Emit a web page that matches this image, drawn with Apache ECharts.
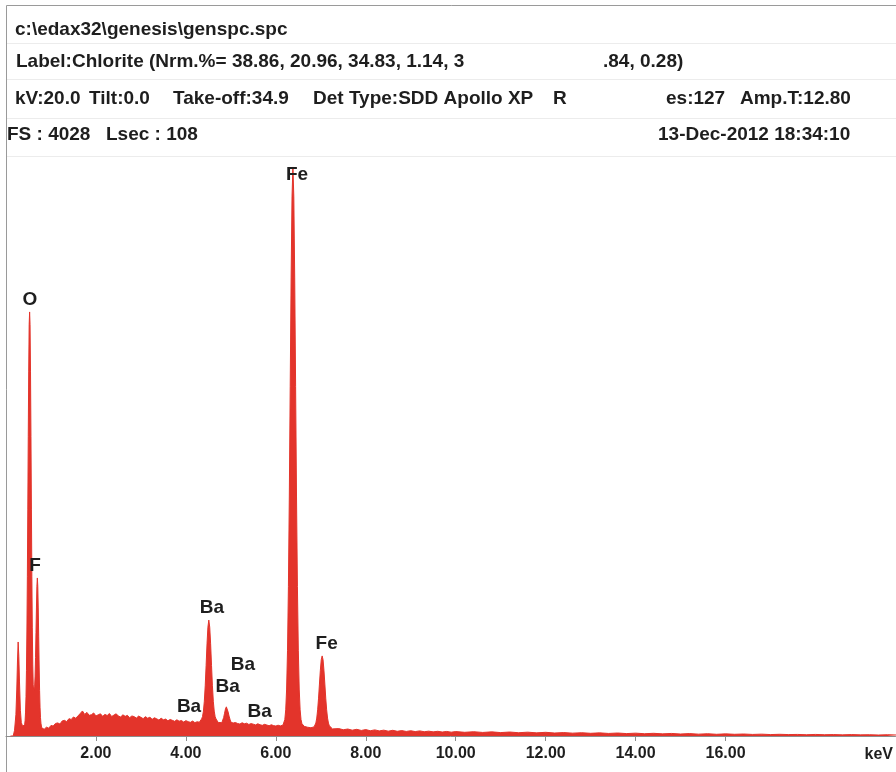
<!DOCTYPE html>
<html><head><meta charset="utf-8">
<script src="https://cdn.jsdelivr.net/npm/echarts@6/dist/echarts.min.js"></script>
<style>html,body{margin:0;padding:0;background:#fff}#c{width:896px;height:772px}</style>
</head><body><div id="c"></div>
<script>
// ---------------- DATA ----------------
// EDS spectrum, [energy keV, counts] (full scale FS = 4028)
const lowEnergyPeaks = [ // C, O and F / Fe-L region
[0.10,0],[0.16,0],[0.19,40],[0.22,150],[0.24,330],[0.255,520],[0.27,661],[0.285,560],[0.30,380],[0.32,180],
[0.34,95],[0.37,68],[0.40,62],[0.415,80],[0.425,110],[0.435,168],[0.445,277],[0.455,459],[0.465,738],[0.475,1123],
[0.485,1595],[0.495,2104],[0.505,2565],[0.515,2892],[0.525,2981],[0.535,2892],[0.545,2565],[0.555,2104],[0.565,1595],[0.575,1123],
[0.585,760],[0.595,500],[0.605,360],[0.615,320],[0.625,335],[0.637,350],[0.647,421],[0.657,552],[0.667,727],[0.677,900],
[0.687,1053],[0.697,1111],[0.707,1053],[0.717,900],[0.727,697],[0.737,492],[0.747,321],[0.757,202],[0.767,129],[0.777,90],
[0.787,70],[0.80,55]
];
const continuumLow = [
[0.85,48],[0.90,62],[0.95,55],[1.00,74],[1.05,70],[1.10,88],[1.15,92],[1.20,84],[1.25,106],[1.30,110],
[1.35,101],[1.40,122],[1.45,116],[1.50,134],[1.55,125],[1.60,141],[1.65,158],[1.70,176],[1.75,152],[1.80,166],
[1.85,145],[1.90,150],[1.95,162],[2.00,141],[2.05,149],[2.10,156],[2.15,138],[2.20,152],[2.25,144],[2.30,158],
[2.35,137],[2.40,147],[2.45,156],[2.50,140],[2.55,134],[2.60,149],[2.65,138],[2.70,145],[2.75,129],[2.80,141],
[2.85,136],[2.90,126],[2.95,140],[3.00,131],[3.05,122],[3.10,136],[3.15,125],[3.20,132],[3.25,117],[3.30,128],
[3.35,121],[3.40,112],[3.45,125],[3.50,114],[3.55,119],[3.60,107],[3.65,116],[3.70,110],[3.75,103],[3.80,114],
[3.85,104],[3.90,109],[3.95,98],[4.00,108],[4.05,101],[4.10,96],[4.15,105],[4.20,94],[4.25,100],[4.30,97]
];
const bariumL = [ // Ba L-alpha, Ba L-beta
[4.33,108],[4.35,120],[4.37,137],[4.39,175],[4.41,244],[4.43,353],[4.45,496],[4.47,648],[4.49,765],[4.51,815],
[4.53,765],[4.55,648],[4.57,496],[4.59,353],[4.61,244],[4.63,175],[4.65,137],[4.67,120],[4.69,106],[4.72,95],
[4.76,101],[4.80,94],
[4.82,104],[4.84,130],[4.86,160],[4.88,190],[4.90,205],[4.92,194],[4.94,168],[4.96,140],[4.98,118]
];
const continuumMid = [
[5.00,98],[5.05,91],[5.10,95],[5.15,88],[5.20,84],[5.25,93],[5.30,86],[5.35,90],[5.40,81],[5.45,87],
[5.50,83],[5.55,78],[5.60,86],[5.65,79],[5.70,75],[5.75,82],[5.80,77],[5.85,72],[5.90,79],[5.95,73],
[6.00,70],[6.05,76],[6.10,71],[6.13,72]
];
const ironK = [ // Fe K-alpha, Fe K-beta
[6.16,77],[6.18,87],[6.20,116],[6.22,184],[6.24,330],[6.26,603],[6.28,1051],[6.30,1687],[6.32,2457],[6.34,3220],
[6.36,3790],[6.38,4000],[6.40,3790],[6.42,3220],[6.44,2457],[6.46,1687],[6.48,1051],[6.50,603],[6.52,330],[6.54,184],
[6.56,116],[6.58,87],[6.60,77],[6.63,68],[6.66,72],[6.70,62],[6.74,68],[6.78,58],[6.82,63],
[6.85,64],[6.87,72],[6.89,91],[6.91,126],[6.93,184],[6.95,266],[6.97,365],[6.99,462],[7.01,536],
[7.03,563],[7.05,536],[7.07,462],[7.09,365],[7.11,266],[7.13,184],[7.15,126],[7.17,91],[7.19,72],[7.22,58],[7.26,50]
];
const continuumHigh = [
[7.30,46],[7.40,52],[7.50,44],[7.60,49],[7.70,41],[7.80,47],[7.90,39],[8.00,45],[8.10,37],[8.20,43],
[8.30,36],[8.40,41],[8.50,34],[8.60,40],[8.70,33],[8.80,38],[8.90,32],[9.00,37],[9.10,31],[9.20,36],
[9.30,30],[9.40,34],[9.50,29],[9.60,33],[9.70,28],[9.80,32],[9.90,27],[10.00,31],
[10.2,26],[10.4,30],[10.6,25],[10.8,29],[11.0,24],[11.2,28],[11.4,23],[11.6,27],[11.8,22],[12.0,26],
[12.2,21],[12.4,24],[12.6,20],[12.8,23],[13.0,19],[13.2,22],[13.4,18],[13.6,21],[13.8,17],[14.0,20],
[14.2,16],[14.4,19],[14.6,15],[14.8,18],[15.0,14],[15.2,17],[15.4,13],[15.6,16],[15.8,12],[16.0,15],
[16.2,12],[16.4,14],[16.6,11],[16.8,13],[17.0,10],[17.2,12],[17.4,10],[17.6,11],[17.8,9],[18.0,11],
[18.2,9],[18.4,10],[18.6,8],[18.8,10],[19.0,8],[19.2,9],[19.4,7],[19.6,9],[19.8,7]
];

// element labels
const peakNames  = ['O','F','Ba','Ba','Ba','Ba','Ba','Fe','Fe'];
const peakKeV    = [0.533, 0.644, 4.58, 5.27, 4.93, 4.07, 5.64, 6.47, 7.13];
const peakCounts = [3065, 1195, 900, 499, 344, 204, 169, 3944, 647];

// x-axis ticks (keV)
const tickValues = [2, 4, 6, 8, 10, 12, 14, 16];
const fullScale = 4028;
const energyMax = 19.78;

// header text
const headerStrings = [
  'c:\\edax32\\genesis\\genspc.spc',
  'Label:Chlorite (Nrm.%= 38.86, 20.96, 34.83, 1.14, 3',
  '.84, 0.28)',
  'kV:20.0', 'Tilt:0.0', 'Take-off:34.9', 'Det Type:SDD Apollo XP', 'R', 'es:127', 'Amp.T:12.80',
  'FS : 4028', 'Lsec : 108', '13-Dec-2012 18:34:10'
];

// ---------------- LAYOUT ----------------
const headerPos = [
  [15,29.5],
  [16,62],
  [603,62],
  [15,98.5],[89,98.5],[173,98.5],[313,98.5],[553,98.5],[666,98.5],[740,98.5],
  [7,134.5],[106,134.5],[658,134.5]
];
const FONT = '"Liberation Sans", Arial, Helvetica, sans-serif';
const TXT = '#1e1e1e';
const RED = '#e3342b';

const spectrum = [].concat(lowEnergyPeaks, continuumLow, bariumL, continuumMid, ironK, continuumHigh);

const graphics = [];
// frame
graphics.push({type:'line', shape:{x1:6.5,y1:5.5,x2:900,y2:5.5}, style:{stroke:'#9a9a9a', lineWidth:1}, silent:true});
graphics.push({type:'line', shape:{x1:6.5,y1:5.5,x2:6.5,y2:780}, style:{stroke:'#9a9a9a', lineWidth:1}, silent:true});
[43.5, 79.5, 118.5, 156.5].forEach(y => graphics.push({type:'line', shape:{x1:7,y1:y,x2:900,y2:y}, style:{stroke:'#ececec', lineWidth:1}, silent:true}));
headerStrings.forEach((s,i) => graphics.push({
  type:'text', x:headerPos[i][0], y:headerPos[i][1], silent:true,
  style:{text:s, fill:TXT, font:'bold 19px ' + FONT, verticalAlign:'middle', align:'left'}
}));

const chart = echarts.init(document.getElementById('c'));
chart.setOption({
  animation:false,
  backgroundColor:'#fff',
  graphic:graphics,
  grid:{left:6, right:0, top:163, height:573, containLabel:false},
  xAxis:{
    type:'value', min:0, max:energyMax,
    name:'keV', nameLocation:'end', nameGap:-31,
    nameTextStyle:{fontFamily:FONT, fontWeight:'bold', fontSize:16, color:TXT, align:'left', verticalAlign:'top', padding:[11,0,0,0]},
    axisLine:{show:true, lineStyle:{color:'#8c8c8c', width:1}},
    axisTick:{show:true, customValues:tickValues, length:5, lineStyle:{color:'#8c8c8c'}},
    axisLabel:{show:true, customValues:tickValues, margin:10, formatter:v => v.toFixed(2),
      fontFamily:FONT, fontWeight:'bold', fontSize:16, color:TXT},
    splitLine:{show:false}
  },
  yAxis:{type:'value', min:0, max:fullScale, show:false, splitLine:{show:false}},
  series:[
    {type:'line', data:spectrum, showSymbol:false, smooth:false, sampling:null,
     lineStyle:{color:RED, width:1}, itemStyle:{color:RED},
     areaStyle:{color:RED, opacity:1}, silent:true, z:2},
    {type:'scatter', silent:true, z:5, symbolSize:0, itemStyle:{color:TXT, opacity:1},
     data:peakNames.map((n,i) => ({name:n, value:[peakKeV[i], peakCounts[i]]})),
     label:{show:true, position:'inside', formatter:'{b}', fontFamily:FONT, fontWeight:'bold', fontSize:19,
       color:TXT, opacity:1, textBorderWidth:0}}
  ]
});
</script>
</body></html>
